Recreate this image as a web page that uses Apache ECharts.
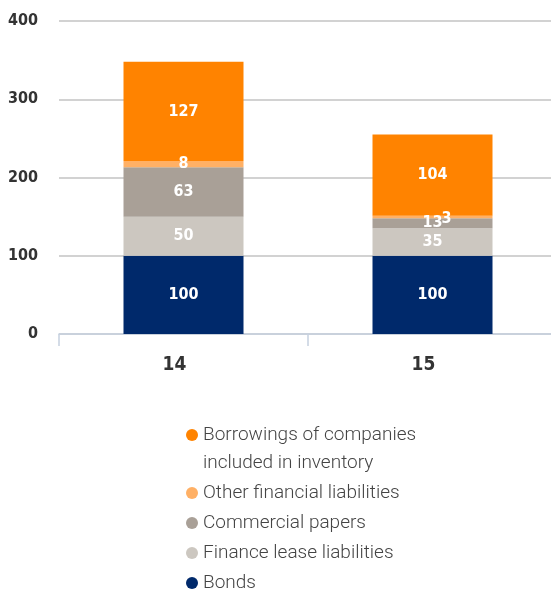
<!DOCTYPE html>
<html>
<head>
<meta charset="utf-8">
<script src="https://cdn.jsdelivr.net/npm/echarts@6/dist/echarts.min.js"></script>
<style>
  html, body { margin: 0; padding: 0; background: #fff; overflow: hidden; }
  /* the plot runs slightly past the right edge of the page */
  #chart { width: 557px; height: 594px; }
</style>
</head>
<body>
<div id="chart"></div>
<script>
// Years on the category axis
const categories = ['14', '15'];

// Stacked liability components (bottom to top)
const bonds = [100, 100];
const financeLease = [50, 35];
const commercialPapers = [63, 13];
const otherFinancial = [8, 3];
const borrowings = [127, 104];

// Value axis ticks
const yTicks = [0, 100, 200, 300, 400];

const seriesNames = [
  'Bonds',
  'Finance lease liabilities',
  'Commercial papers',
  'Other financial liabilities',
  'Borrowings of companies\nincluded in inventory'
];
const seriesColors = ['#00296b', '#ccc7c0', '#a9a097', '#ffb065', '#ff8300'];
const seriesData = [bonds, financeLease, commercialPapers, otherFinancial, borrowings];

const labelFont = '"DejaVu Sans Condensed", "Liberation Sans Narrow", sans-serif';

const series = seriesData.map((vals, i) => ({
  name: seriesNames[i],
  type: 'bar',
  stack: 'total',
  barWidth: 120,
  itemStyle: { color: seriesColors[i] },
  label: {
    show: true,
    position: 'inside',
    color: '#fff',
    fontFamily: labelFont,
    fontWeight: 'bold',
    fontSize: 16
  },
  data: vals.map((v, j) => {
    const d = { value: v };
    // thin segment on the second bar: nudge its label right
    if (i === 3 && j === 1) d.label = { offset: [14, 2] };
    return d;
  })
}));

const chart = echarts.init(document.getElementById('chart'));
chart.setOption({
  animation: false,
  grid: { left: 59, right: 0, top: 21, bottom: 260, containLabel: false },
  xAxis: {
    type: 'category',
    data: categories,
    axisLine: { lineStyle: { color: '#c6d1df', width: 1.5 } },
    axisTick: { show: true, length: 12, lineStyle: { color: '#c6d1df', width: 1.5 } },
    axisLabel: {
      margin: 22,
      padding: [0, 18, 0, 0],
      color: '#333',
      fontFamily: labelFont,
      fontWeight: 'bold',
      fontSize: 19
    }
  },
  yAxis: {
    type: 'value',
    min: yTicks[0],
    max: yTicks[yTicks.length - 1],
    interval: 100,
    axisLine: { show: false },
    axisTick: { show: false },
    splitLine: { lineStyle: { color: '#d2d2d2', width: 2 } },
    axisLabel: {
      margin: 21,
      color: '#333',
      fontFamily: labelFont,
      fontWeight: 'bold',
      fontSize: 16
    }
  },
  legend: {
    orient: 'vertical',
    left: 186,
    top: 393,
    height: 200,
    padding: 0,
    icon: 'circle',
    itemWidth: 12,
    itemHeight: 12,
    itemGap: 2,
    data: seriesNames.slice().reverse(),
    // a blank leading line keeps the icon beside the first line of a wrapped name
    formatter: name => (name.indexOf('\n') >= 0 ? ' \n' + name : name),
    textStyle: {
      color: '#444',
      fontFamily: 'Roboto, sans-serif',
      fontWeight: 300,
      fontSize: 19,
      lineHeight: 28
    }
  },
  series: series
});
</script>
</body>
</html>
